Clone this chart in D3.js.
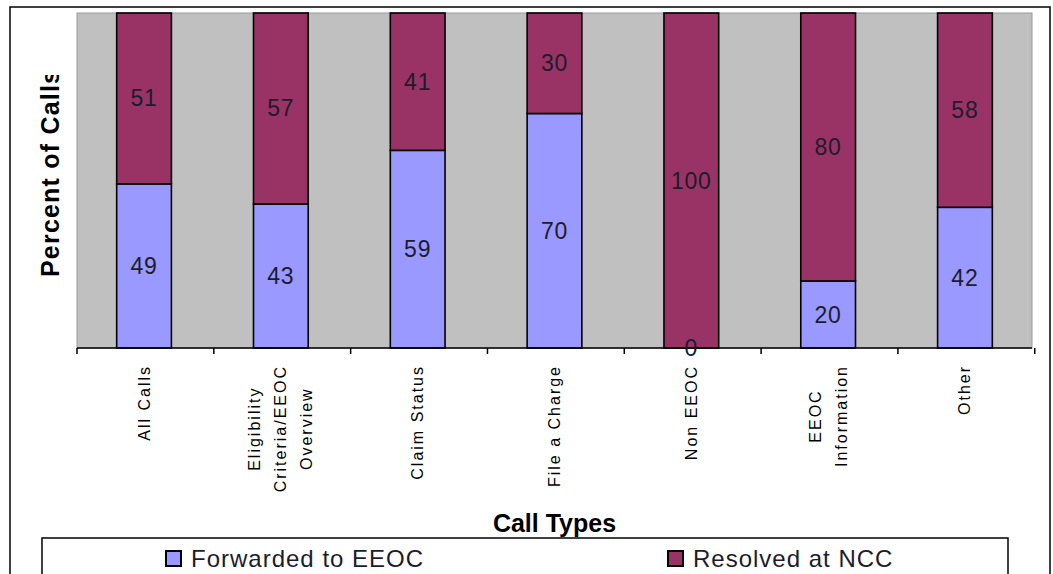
<!DOCTYPE html>
<html>
<head>
<meta charset="utf-8">
<script src="https://cdn.jsdelivr.net/npm/d3@7"></script>
<style>
  html, body { margin: 0; padding: 0; background: #fff; }
  svg { display: block; font-family: Arial, "Liberation Sans", sans-serif; }
</style>
</head>
<body>
<svg id="chart" width="1053" height="574"></svg>
<script>
// Call types (line breaks mark wrapped axis labels)
const categories = [
  "All Calls",
  "Eligibility\nCriteria/EEOC\nOverview",
  "Claim Status",
  "File a Charge",
  "Non EEOC",
  "EEOC\nInformation",
  "Other"
];
// Percent of calls per call type
const forwarded = [49, 43, 59, 70, 0, 20, 42];
const resolved  = [51, 57, 41, 30, 100, 80, 58];
const seriesNames = ["Forwarded to EEOC", "Resolved at NCC"];
const seriesColors = ["#9999ff", "#993366"];
const yTitle = "Percent of Calls";
const xTitle = "Call Types";

const svg = d3.select("#chart");
const plot = { left: 77, right: 1032, top: 13, bottom: 348 };

// Outer chart frame
svg.append("rect")
  .attr("x", 10).attr("y", 7).attr("width", 1040).attr("height", 620)
  .attr("fill", "#fff").attr("stroke", "#000").attr("stroke-width", 1.5);

// Plot area background
svg.append("rect")
  .attr("x", plot.left).attr("y", plot.top)
  .attr("width", plot.right - plot.left).attr("height", plot.bottom - plot.top)
  .attr("fill", "#c0c0c0").attr("stroke", "#9a9a9a").attr("stroke-width", 1);

const x = d3.scaleBand()
  .domain(categories)
  .range([plot.left, plot.right])
  .paddingInner(0.6)
  .paddingOuter(0.29);

const y = d3.scaleLinear().domain([0, 100]).range([plot.bottom, plot.top]);

const rows = categories.map((c, i) => ({ cat: c, f: forwarded[i], r: resolved[i] }));
const layers = d3.stack().keys(["f", "r"])(rows);

// Stacked bars
const g = svg.append("g");
layers.forEach((layer, li) => {
  g.selectAll(null)
    .data(layer)
    .join("rect")
    .attr("x", d => x(d.data.cat))
    .attr("y", d => y(d[1]))
    .attr("width", x.bandwidth())
    .attr("height", d => y(d[0]) - y(d[1]))
    .attr("fill", seriesColors[li])
    .attr("stroke", "#000")
    .attr("stroke-width", 1.6);
});

// Axis line and category boundary ticks
const axis = svg.append("g");
axis.append("line")
  .attr("x1", plot.left).attr("x2", plot.right)
  .attr("y1", plot.bottom).attr("y2", plot.bottom)
  .attr("stroke", "#000").attr("stroke-width", 1.5);
d3.range(categories.length + 1).forEach(i => {
  const tx = plot.left + i * x.step();
  axis.append("line")
    .attr("x1", tx).attr("x2", tx)
    .attr("y1", plot.bottom).attr("y2", plot.bottom + 6)
    .attr("stroke", "#000").attr("stroke-width", 1.5);
});

// Value labels centred in each segment
layers.forEach(layer => {
  svg.append("g").selectAll(null)
    .data(layer)
    .join("text")
    .attr("x", d => x(d.data.cat) + x.bandwidth() / 2)
    .attr("y", d => (y(d[0]) + y(d[1])) / 2)
    .attr("text-anchor", "middle")
    .attr("dominant-baseline", "central")
    .attr("font-size", 23)
    .attr("letter-spacing", 0.8)
    .attr("fill", "#1c1c2c")
    .text(d => d[1] - d[0]);
});

// Rotated category labels, top aligned below the axis
const labelTop = 365;
const lineGap = 26;
categories.forEach(c => {
  const lines = c.split("\n");
  const cx = x(c) + x.bandwidth() / 2;
  const grp = svg.append("g");
  const texts = lines.map(ln => grp.append("text")
    .attr("text-anchor", "middle")
    .attr("dominant-baseline", "central")
    .attr("font-size", 16)
    .attr("letter-spacing", 2)
    .attr("fill", "#000")
    .text(ln));
  const maxLen = d3.max(texts, t => t.node().getComputedTextLength());
  texts.forEach((t, i) => {
    const lx = cx + (i - (lines.length - 1) / 2) * lineGap;
    const ly = labelTop + maxLen / 2;
    t.attr("transform", `translate(${lx},${ly}) rotate(-90)`);
  });
});

// Y axis title, clipped at the top of its box
svg.append("clipPath").attr("id", "ytitle-clip")
  .append("rect").attr("x", 20).attr("y", 75).attr("width", 50).attr("height", 260);
svg.append("g")
  .attr("clip-path", "url(#ytitle-clip)")
  .append("text")
  .attr("transform", "translate(59,277) rotate(-90)")
  .attr("text-anchor", "start")
  .attr("font-size", 25)
  .attr("font-weight", "bold")
  .attr("letter-spacing", 1.2)
  .attr("fill", "#000")
  .text(yTitle);

// X axis title
svg.append("text")
  .attr("x", (plot.left + plot.right) / 2)
  .attr("y", 532)
  .attr("text-anchor", "middle")
  .attr("font-size", 25)
  .attr("font-weight", "bold")
  .attr("fill", "#000")
  .text(xTitle);

// Legend box
svg.append("rect")
  .attr("x", 42).attr("y", 538).attr("width", 966).attr("height", 80)
  .attr("fill", "#fff").attr("stroke", "#000").attr("stroke-width", 1.5);

const legendX = [166, 668];
seriesNames.forEach((name, i) => {
  svg.append("rect")
    .attr("x", legendX[i]).attr("y", 551)
    .attr("width", 15).attr("height", 15)
    .attr("fill", seriesColors[i]).attr("stroke", "#000").attr("stroke-width", 2);
  svg.append("text")
    .attr("x", legendX[i] + 25).attr("y", 567)
    .attr("font-size", 24)
    .attr("letter-spacing", 1)
    .attr("fill", "#1c1c2c")
    .text(name);
});
</script>
</body>
</html>
